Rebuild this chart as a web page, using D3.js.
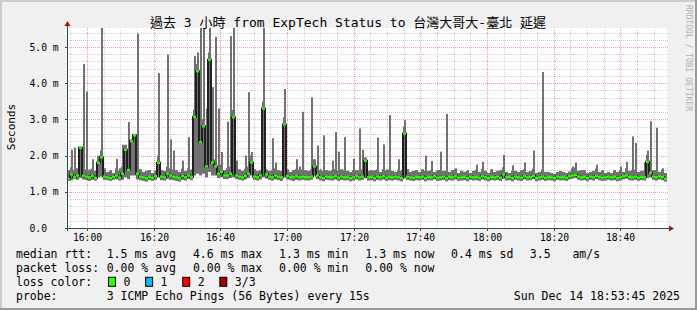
<!DOCTYPE html>
<html>
<head>
<meta charset="utf-8">
<script src="https://cdn.jsdelivr.net/npm/d3@7"></script>
<style>
body { margin: 0; background: #f0f0f0; }
svg { display: block; }
text { font-family: 'DejaVu Sans Mono', 'Noto Sans CJK TC', monospace; fill: #000; }
</style>
</head>
<body>
<svg id="chart" width="697" height="310"></svg>
<script>
var title = '過去 3 小時 from ExpTech Status to 台灣大哥大-臺北 延遲';
var y_title = 'Seconds';
var credit = 'RRDTOOL / TOBI OETIKER';

// one column every 54 s, 15:54 -> 18:54
var t_start = new Date(2025, 11, 14, 15, 54, 0),
	t_end = new Date(2025, 11, 14, 18, 54, 0),
	step = 54;

// median rtt (ms)
var med = [
	1.35,1.48,1.40,1.45,2.22,1.45,1.42,1.40,1.44,1.38, 1.80,1.95,1.42,1.40,1.38,1.41,1.45,1.39,1.50,2.16,
	1.60,2.40,2.56,1.50,1.42,1.40,1.38,1.41,1.39,1.43, 1.80,1.42,1.40,1.50,1.45,1.42,1.40,1.38,1.44,1.40,
	1.45,1.41,3.07,4.33,2.37,2.81,1.70,4.65,1.81,1.70, 1.50,1.55,1.45,1.45,1.50,3.06,1.45,1.42,1.40,1.44,
	1.50,1.81,1.42,1.40,1.45,3.30,1.48,1.42,1.40,1.45, 1.42,1.40,2.86,1.44,1.41,1.40,1.43,1.40,1.42,1.41,
	1.40,1.42,1.70,1.45,1.40,1.38,1.42,1.41,1.40,1.43, 1.39,1.42,1.40,1.41,1.38,1.40,1.43,1.40,1.42,1.86,
	1.40,1.41,1.38,1.42,1.40,1.43,1.39,1.41,1.40,1.42, 1.40,1.38,2.61,1.42,1.40,1.39,1.41,1.40,1.42,1.38,
	1.41,1.40,1.43,1.39,1.40,1.42,1.38,1.41,1.40,1.43, 1.39,1.40,1.41,1.38,1.42,1.40,1.41,1.39,1.43,1.40,
	1.38,1.41,1.40,1.42,1.39,1.48,1.40,1.41,1.38,1.42, 1.40,1.39,1.43,1.40,1.41,1.44,1.38,1.40,1.42,1.39,
	1.41,1.40,1.38,1.42,1.40,1.41,1.39,1.43,1.45,1.47, 1.42,1.40,1.41,1.38,1.42,1.40,1.44,1.41,1.39,1.40,
	1.42,1.40,1.41,1.38,1.40,1.43,1.45,1.41,1.40,1.42, 1.39,1.41,1.40,1.83,1.52,1.42,1.40,1.43,1.41,1.36
];
// slowest ping of the column
var hi = [
	1.60,2.16,2.22,1.65,2.25,4.53,3.77,1.62,1.90,1.58, 2.00,5.70,1.65,1.55,1.60,1.52,1.91,1.65,2.30,2.30,
	2.93,2.45,2.60,5.37,1.62,1.55,1.58,1.60,1.52,1.58, 4.28,1.60,1.58,4.79,2.45,2.14,1.60,1.55,1.86,1.58,
	2.51,1.62,4.75,4.85,5.70,5.70,3.30,5.70,3.89,5.28, 3.30,2.10,1.60,2.94,5.30,5.70,1.86,1.62,1.58,2.00,
	3.75,2.10,1.62,1.58,1.60,5.70,1.62,1.58,2.48,1.81, 1.60,1.58,3.84,1.62,1.55,1.60,1.90,1.70,3.21,1.60,
	1.58,3.61,1.90,2.28,1.62,2.56,1.60,1.58,1.86,2.65, 2.11,1.62,2.51,1.58,1.55,1.91,1.60,2.75,2.16,1.95,
	1.58,1.60,1.60,2.50,1.55,2.31,1.62,3.12,1.58,1.55, 1.90,1.60,2.98,1.62,1.55,1.58,1.60,1.55,1.62,2.00,
	1.58,1.85,1.55,1.60,2.11,1.58,3.15,1.55,1.60,1.65, 1.52,1.58,1.55,1.60,1.52,1.58,1.75,1.55,1.83,1.58,
	1.52,1.63,1.55,1.58,1.60,2.02,1.55,1.52,1.73,1.58, 1.55,1.60,1.81,1.55,1.58,2.14,1.52,1.55,4.31,1.55,
	1.55,1.52,1.50,1.55,1.58,1.55,1.52,1.56,1.70,1.81, 1.58,1.60,1.60,1.52,1.55,1.58,1.75,1.55,1.60,1.52,
	1.55,1.52,1.60,1.55,1.70,1.55,1.83,1.58,2.53,2.35, 1.55,1.58,1.81,2.14,2.95,1.60,2.77,1.55,1.65,1.52
];
// fastest ping of the column
var lo = [
	1.30,1.32,1.35,1.33,1.38,1.34,1.32,1.30,1.33,1.31, 1.40,1.42,1.33,1.32,1.30,1.33,1.35,1.31,1.33,1.40,
	1.35,1.45,1.45,1.34,1.32,1.30,1.28,1.32,1.30,1.33, 1.40,1.32,1.31,1.35,1.33,1.32,1.30,1.28,1.33,1.31,
	1.35,1.32,1.45,1.50,1.45,1.50,1.40,1.55,1.45,1.45, 1.38,1.40,1.35,1.35,1.38,1.40,1.35,1.33,1.31,1.34,
	1.38,1.45,1.33,1.31,1.34,1.40,1.36,1.33,1.31,1.34, 1.32,1.30,1.40,1.34,1.32,1.30,1.33,1.31,1.33,1.32,
	1.31,1.33,1.45,1.35,1.31,1.29,1.33,1.32,1.31,1.34, 1.30,1.33,1.31,1.32,1.29,1.31,1.34,1.31,1.33,1.38,
	1.31,1.32,1.29,1.33,1.31,1.34,1.30,1.32,1.31,1.33, 1.31,1.29,1.38,1.33,1.31,1.30,1.32,1.31,1.33,1.29,
	1.32,1.31,1.34,1.30,1.31,1.33,1.29,1.32,1.31,1.34, 1.30,1.31,1.32,1.29,1.33,1.31,1.32,1.30,1.34,1.31,
	1.29,1.32,1.31,1.33,1.30,1.36,1.31,1.32,1.29,1.33, 1.31,1.30,1.34,1.31,1.32,1.35,1.29,1.31,1.33,1.30,
	1.32,1.31,1.29,1.33,1.31,1.32,1.30,1.34,1.36,1.38, 1.33,1.31,1.32,1.29,1.33,1.31,1.35,1.32,1.30,1.31,
	1.33,1.31,1.32,1.29,1.31,1.34,1.36,1.32,1.31,1.33, 1.30,1.32,1.31,1.38,1.40,1.33,1.31,1.34,1.32,1.28
];

var y_ticks = [0, 1, 2, 3, 4, 5];
var y_labels = ['0.0', '1.0 m', '2.0 m', '3.0 m', '4.0 m', '5.0 m'];

var rtt_stats = ['1.5 ms avg', '4.6 ms max', '1.3 ms min', '1.3 ms now', '0.4 ms sd', '3.5', 'am/s'];
var loss_stats = ['0.00 % avg', '0.00 % max', '0.00 % min', '0.00 % now'];
var loss_names = ['0', '1', '2', '3/3'];
var loss_colors = ['#26ff00', '#00b8ff', '#ff0000', '#a00000'];
var probe_text = '3 ICMP Echo Pings (56 Bytes) every 15s';
var stamp = 'Sun Dec 14 18:53:45 2025';

var W = 697, H = 310,
	pad = {left: 67, right: 667, top: 28, bottom: 228};

var svg = d3.select('#chart');

// frame
svg.append('rect').attr('width', W).attr('height', H).attr('fill', '#f0f0f0');
svg.append('path').attr('d', 'M0,0H' + W + 'V2H2V' + H + 'H0Z').attr('fill', '#cbcbcb');
svg.append('path').attr('d', 'M' + W + ',' + H + 'H0V' + (H - 2) + 'H' + (W - 2) + 'V0H' + W + 'Z').attr('fill', '#999');

var x = d3.scaleTime().domain([t_start, t_end]).range([pad.left, pad.right]);
var y = d3.scaleLinear().domain([0, 5.525]).range([pad.bottom, pad.top]);

svg.append('rect')
	.attr('x', pad.left).attr('y', pad.top)
	.attr('width', pad.right - pad.left).attr('height', pad.bottom - pad.top)
	.attr('fill', '#fff');

svg.append('clipPath').attr('id', 'plot_clip').append('rect')
	.attr('x', pad.left + 1).attr('y', pad.top)
	.attr('width', pad.right - pad.left).attr('height', pad.bottom - pad.top);

// grid first, data is drawn over it
var g_grid = svg.append('g');
var minor_y = d3.range(1, 28).map(function (k) {return k * 0.2;}).filter(function (v) {return Math.abs(v - Math.round(v)) > 0.01;});
var major_y = y_ticks.slice(1);
var minor_x = x.ticks(d3.timeMinute.every(5)).filter(function (d) {return d.getMinutes() % 20 !== 0;});
var major_x = x.ticks(d3.timeMinute.every(20));

function hline(v, col) {
	var yy = Math.round(y(v)) + 0.5;
	g_grid.append('line').attr('x1', pad.left).attr('x2', pad.right + 1).attr('y1', yy).attr('y2', yy)
		.attr('stroke', col).attr('stroke-dasharray', '1,1');
}
function vline(t, col) {
	var xx = Math.round(x(t)) + 0.5;
	g_grid.append('line').attr('x1', xx).attr('x2', xx).attr('y1', pad.top).attr('y2', pad.bottom)
		.attr('stroke', col).attr('stroke-dasharray', '1,1');
}
minor_y.forEach(function (v) {hline(v, '#cfcfcf');});
minor_x.forEach(function (t) {vline(t, '#cfcfcf');});
major_y.forEach(function (v) {hline(v, '#f09a9a');});
major_x.forEach(function (t) {vline(t, '#f09a9a');});

var cols = med.map(function (m, i) {
	return {t0: new Date(+t_start + i * step * 1000), t1: new Date(+t_start + (i + 1) * step * 1000), lo: lo[i], med: m, hi: hi[i]};
});

var g_data = svg.append('g').attr('clip-path', 'url(#plot_clip)');

// smoke: body of the column between fastest ping and just above the median
function body_top(d) {return Math.min(d.hi, d.med + 0.2);}
g_data.selectAll('rect.smoke').data(cols).enter().append('rect')
	.attr('class', 'smoke')
	.attr('x', function (d) {return x(d.t0);})
	.attr('width', function (d) {return x(d.t1) - x(d.t0);})
	.attr('y', function (d) {return y(body_top(d));})
	.attr('height', function (d) {return y(d.lo) - y(body_top(d));})
	.attr('fill', '#717171');

// short bursts above that are thinner than a full column
g_data.selectAll('rect.spike').data(cols.filter(function (d) {return d.hi > body_top(d);})).enter().append('rect')
	.attr('class', 'spike')
	.attr('x', function (d) {return x(d.t0) + 1;})
	.attr('width', function (d) {return x(d.t1) - x(d.t0) - 1;})
	.attr('y', function (d) {return y(d.hi);})
	.attr('height', function (d) {return y(body_top(d)) - y(d.hi) + 0.5;})
	.attr('fill', '#717171');

// thin dark median line, steps give the dark bars
var med_line = d3.line()
	.x(function (d) {return x(d.t);})
	.y(function (d) {return y(d.v);})
	.curve(d3.curveStepAfter);
var med_pts = cols.map(function (d) {return {t: d.t0, v: d.med};});
med_pts.push({t: t_end, v: med[med.length - 1]});
g_data.append('path').datum(med_pts)
	.attr('d', med_line)
	.attr('fill', 'none')
	.attr('stroke', '#202020')
	.attr('stroke-width', 2);

// median band, coloured by loss (all 0 here)
g_data.selectAll('rect.median').data(cols).enter().append('rect')
	.attr('class', 'median')
	.attr('x', function (d) {return x(d.t0);})
	.attr('width', function (d) {return x(d.t1) - x(d.t0);})
	.attr('y', function (d) {return y(d.med) - 1.2;})
	.attr('height', 2.4)
	.attr('fill', loss_colors[0]);

// axes
var axis_col = '#2c4d43', arrow_col = '#a01818';
svg.append('line').attr('x1', pad.left - 2).attr('x2', pad.right + 3)
	.attr('y1', pad.bottom + 0.5).attr('y2', pad.bottom + 0.5).attr('stroke', axis_col);
svg.append('line').attr('x1', pad.left + 0.5).attr('x2', pad.left + 0.5)
	.attr('y1', pad.bottom + 3).attr('y2', pad.top - 3).attr('stroke', axis_col);
major_x.forEach(function (t) {
	var xx = Math.round(x(t)) + 0.5;
	svg.append('line').attr('x1', xx).attr('x2', xx).attr('y1', pad.bottom).attr('y2', pad.bottom + 3).attr('stroke', axis_col);
});
y_ticks.forEach(function (v) {
	var yy = Math.round(y(v)) + 0.5;
	svg.append('line').attr('x1', pad.left - 2).attr('x2', pad.left).attr('y1', yy).attr('y2', yy).attr('stroke', axis_col);
});
svg.append('path').attr('fill', arrow_col)
	.attr('d', 'M' + (pad.left + 0.5) + ',' + (pad.top - 7) + 'l3,5h-6z');
svg.append('path').attr('fill', arrow_col)
	.attr('d', 'M' + (pad.right + 7) + ',' + (pad.bottom + 0.5) + 'l-5,-3v6z');

// tick labels
svg.selectAll('text.ylab').data(y_ticks).enter().append('text')
	.attr('class', 'ylab')
	.attr('x', 29.5)
	.attr('y', function (d) {return y(d) + 3.5;})
	.attr('font-size', '9.7px')
	.text(function (d, i) {return y_labels[i];});

svg.selectAll('text.xlab').data(major_x).enter().append('text')
	.attr('class', 'xlab')
	.attr('x', function (d) {return Math.round(x(d)) + 0.5;})
	.attr('y', 241)
	.attr('text-anchor', 'middle')
	.attr('font-size', '9.7px')
	.text(d3.timeFormat('%H:%M'));

// titles
svg.append('text').attr('x', 348).attr('y', 26.5).attr('text-anchor', 'middle')
	.attr('font-size', '13px').text(title);
svg.append('text').attr('transform', 'translate(15,127) rotate(-90)').attr('text-anchor', 'middle')
	.attr('font-size', '11px').text(y_title);
svg.append('text').attr('transform', 'translate(686,5) rotate(90)')
	.attr('font-size', '8px').style('fill', '#b0b0b0').text(credit);

// legend
var leg_y = [257.5, 271.7, 285.8, 300],
	stat_x = [106.7, 192.9, 279.1, 365.3, 451.1, 529.8, 572.4];
function leg_text(px, py, s, anchor) {
	svg.append('text').attr('x', px).attr('y', py).attr('font-size', '11.5px')
		.attr('text-anchor', anchor || 'start').text(s);
}
leg_text(16, leg_y[0], 'median rtt:');
rtt_stats.forEach(function (s, i) {leg_text(stat_x[i], leg_y[0], s);});
leg_text(16, leg_y[1], 'packet loss:');
loss_stats.forEach(function (s, i) {leg_text(stat_x[i], leg_y[1], s);});
leg_text(16, leg_y[2], 'loss color:');
loss_names.forEach(function (s, i) {
	var bx = 108.5 + i * 37.1;
	svg.append('rect').attr('x', bx).attr('y', leg_y[2] - 8.5).attr('width', 7).attr('height', 9)
		.attr('fill', loss_colors[i]).attr('stroke', '#000');
	leg_text(bx + 15, leg_y[2], s);
});
leg_text(16, leg_y[3], 'probe:');
leg_text(stat_x[0], leg_y[3], probe_text);
leg_text(680, leg_y[3], stamp, 'end');
</script>
</body>
</html>
